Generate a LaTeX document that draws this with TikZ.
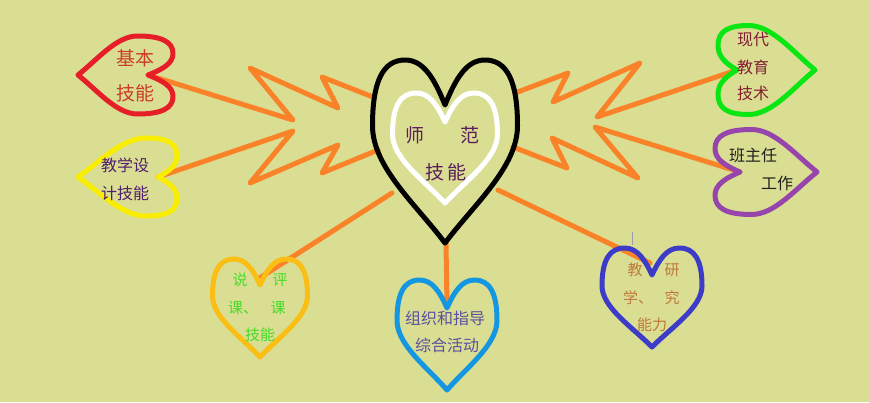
\documentclass[tikz,border=0pt]{standalone}
\usepackage{fontspec}
\newfontfamily\cjk{Noto Sans CJK SC}
\definecolor{bg}{RGB}{218,222,146}
\definecolor{orangeline}{RGB}{250,130,40}
\definecolor{hred}{RGB}{230,30,40}
\definecolor{hyellow}{RGB}{250,238,0}
\definecolor{hgreen}{RGB}{10,230,20}
\definecolor{hpurple}{RGB}{150,70,170}
\definecolor{hgold}{RGB}{250,190,20}
\definecolor{hblue}{RGB}{20,150,225}
\definecolor{hindigo}{RGB}{60,60,200}
\definecolor{tred}{RGB}{205,60,40}
\definecolor{tplum}{RGB}{80,30,110}
\definecolor{tcenter}{RGB}{90,30,90}
\definecolor{tmaroon}{RGB}{130,30,50}
\definecolor{tdark}{RGB}{30,30,30}
\definecolor{tgreen}{RGB}{70,220,40}
\definecolor{tslate}{RGB}{90,80,160}
\definecolor{tbrown}{RGB}{190,120,60}
\newcommand{\heartpath}[7]{%
 \draw[#7, shift={(#1,#2)}, rotate=#3]
  (0,0) .. controls ({0.15*#4},{-0.6*#5}) and ({0.3*#4},{-#5}) .. ({0.55*#4},{-#5})
  .. controls ({0.85*#4},{-#5}) and ({#4},{-0.55*#5}) .. ({#4},{0.15*#6})
  .. controls ({#4},{0.45*#6}) and ({0.4*#4},{0.72*#6}) .. (0,{#6})
  .. controls ({-0.4*#4},{0.72*#6}) and ({-#4},{0.45*#6}) .. ({-#4},{0.15*#6})
  .. controls ({-#4},{-0.55*#5}) and ({-0.85*#4},{-#5}) .. ({-0.55*#4},{-#5})
  .. controls ({-0.3*#4},{-#5}) and ({-0.15*#4},{-0.6*#5}) .. cycle;}
\begin{document}
\begin{tikzpicture}[x=1pt,y=-1pt,
  conn/.style={orangeline, line width=5pt, line join=round, line cap=round},
  hline/.style={line width=5pt, line join=round},
  t16/.style={font=\cjk\fontsize{16pt}{18pt}\selectfont, inner sep=0pt},
  t19/.style={font=\cjk\fontsize{19pt}{21pt}\selectfont, inner sep=0pt},
  t15/.style={font=\cjk\fontsize{15pt}{17pt}\selectfont, inner sep=0pt}]
\fill[bg] (0,0) rectangle (870,402);
\useasboundingbox (0,0) rectangle (870,402);
% anchor coordinates
\coordinate (redN) at (148,75);
\coordinate (yelN) at (158,177);
\coordinate (grnN) at (737,70);
\coordinate (purN) at (740,172);
\coordinate (goldN) at (258,279);
\coordinate (bluN) at (447,306);
\coordinate (indN) at (650,263);
\coordinate (cUL) at (373,97);
\coordinate (cLL) at (378,150);
\coordinate (cUR) at (515,93);
\coordinate (cLR) at (513,147);
\coordinate (cBL) at (392,193);
\coordinate (cBR) at (498,190);
\coordinate (cTip) at (446,243);
% zigzag vertices
\coordinate (a1) at (293,120); \coordinate (a2) at (250,68);
\coordinate (a3) at (338,108); \coordinate (a4) at (322,77);
\coordinate (b1) at (293,131); \coordinate (b2) at (250,183);
\coordinate (b3) at (338,145); \coordinate (b4) at (322,173);
\coordinate (c1) at (597,117); \coordinate (c2) at (640,63);
\coordinate (c3) at (553,102); \coordinate (c4) at (568,73);
\coordinate (d1) at (595,127); \coordinate (d2) at (638,178);
\coordinate (d3) at (552,138); \coordinate (d4) at (567,168);
% connectors
\draw[conn] (redN) -- (a1) -- (a2) -- (a3) -- (a4) -- (cUL);
\draw[conn] (yelN) -- (b1) -- (b2) -- (b3) -- (b4) -- (cLL);
\draw[conn] (grnN) -- (c1) -- (c2) -- (c3) -- (c4) -- (cUR);
\draw[conn] (purN) -- (d1) -- (d2) -- (d3) -- (d4) -- (cLR);
\draw[conn] (cBL) -- (goldN);
\draw[conn] (cTip) -- (bluN);
\draw[conn] (cBR) -- (indN);
% hearts
\heartpath{445}{105}{0}{72.5}{45}{138}{hline,black}
\heartpath{445}{122}{0}{52.5}{29}{81}{hline,white}
\heartpath{148}{75}{-90}{39}{25}{70}{hline,hred}
\heartpath{158}{177}{-90}{39}{19}{80}{hline,hyellow}
\heartpath{737}{70}{90}{44.5}{19}{78}{hline,hgreen}
\heartpath{740}{172}{90}{42.5}{25}{77}{hline,hpurple}
\heartpath{260}{285}{0}{47.5}{26}{72}{hline,hgold}
\heartpath{447}{308}{0}{50}{28}{82}{hline,hblue}
\heartpath{652}{275}{0}{50}{27}{72}{hline,hindigo}
\draw[line width=0.8pt, color=hindigo!40!bg] (632,232) -- (632,245);
% texts
\node[t19, tcenter] (ts1) at (415,135) {师};
\node[t19, tcenter] (ts2) at (470,135) {范};
\node[t19, tcenter] (ts3) at (446,172) {技\,能};
\node[t19, tred] (tr1) at (135,58) {基本};
\node[t19, tred] (tr2) at (135,93) {技能};
\node[t16, tplum] (ty1) at (125,165) {教学设};
\node[t16, tplum] (ty2) at (125,193) {计技能};
\node[t16, tmaroon] (tg1) at (753,40) {现代};
\node[t16, tmaroon] (tg2) at (753,67) {教育};
\node[t16, tmaroon] (tg3) at (753,93) {技术};
\node[t16, tdark] (tp1) at (753,155) {班主任};
\node[t16, tdark] (tp2) at (777,183) {工作};
\node[t15, tgreen] (tk1) at (240,280) {说};
\node[t15, tgreen] (tk2) at (280,280) {评};
\node[t15, tgreen] (tk3) at (243,308) {课、};
\node[t15, tgreen] (tk4) at (278,308) {课};
\node[t15, tgreen] (tk5) at (260,335) {技能};
\node[t16, tslate] (tb1) at (445,318) {组织和指导};
\node[t16, tslate] (tb2) at (447,345) {综合活动};
\node[t15, tbrown] (ti1) at (635,270) {教};
\node[t15, tbrown] (ti2) at (672,270) {研};
\node[t15, tbrown] (ti3) at (638,298) {学、};
\node[t15, tbrown] (ti4) at (672,298) {究};
\node[t15, tbrown] (ti5) at (652,325) {能力};
\end{tikzpicture}
\end{document}
